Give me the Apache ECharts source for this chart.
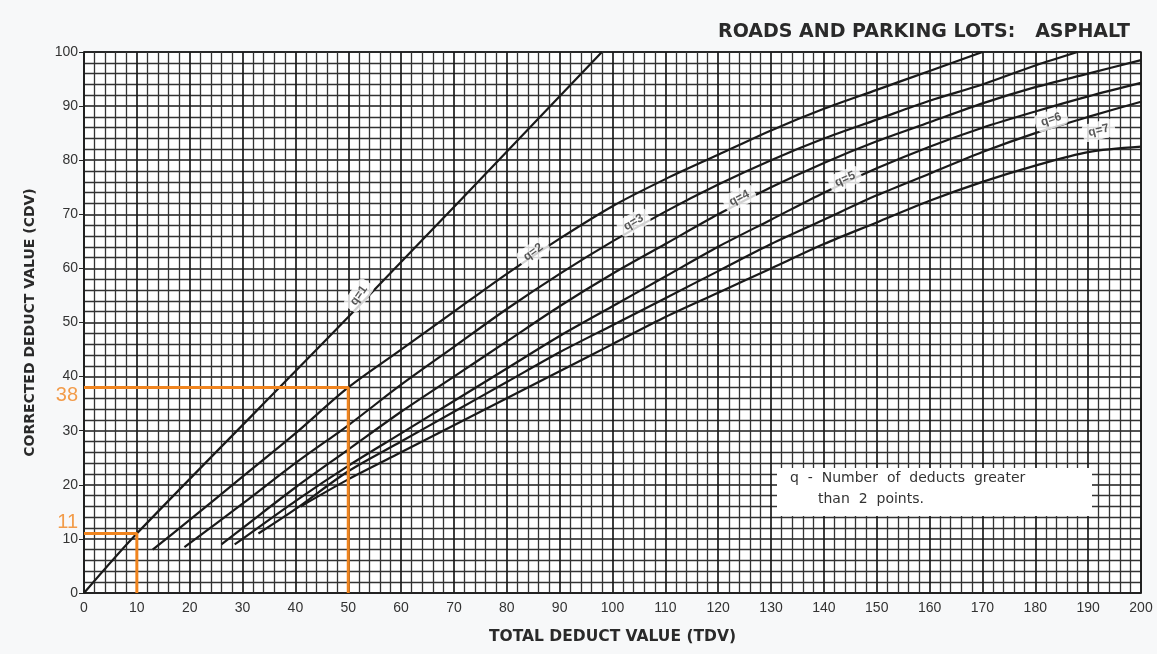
<!DOCTYPE html>
<html>
<head>
<meta charset="utf-8">
<script src="https://cdn.jsdelivr.net/npm/echarts@6/dist/echarts.min.js"></script>
<style>
  html, body { margin: 0; padding: 0; background: #f7f8f9; }
  #chart { width: 1157px; height: 654px; }
</style>
</head>
<body>
<div id="chart"></div>
<script>
// Corrected deduct value curves, one per number of deducts q
const curveNames = ['q=1', 'q=2', 'q=3', 'q=4', 'q=5', 'q=6', 'q=7'];
const q1 = [[0, 0], [10, 11], [50, 51], [98, 100]];
const q2 = [[13, 8], [20, 13.5], [30, 21.5], [40, 29.5], [50, 38], [60, 45], [70, 52], [80, 59], [90, 65.5], [100, 71.5], [110, 76.5], [120, 81], [130, 85.5], [140, 89.5], [150, 93], [160, 96.5], [170, 100]];
const q3 = [[19, 8.5], [30, 16.5], [40, 24], [50, 31], [60, 38.5], [70, 45.5], [80, 52.5], [90, 59], [100, 65], [110, 70.5], [120, 75.5], [130, 80], [140, 84], [150, 87.5], [160, 91], [170, 94], [180, 97.5], [188, 100]];
const q4 = [[26, 9], [30, 12], [40, 19.5], [50, 26.5], [60, 33.5], [70, 40], [80, 46.5], [90, 53], [100, 59], [110, 64.5], [120, 70], [130, 75], [140, 79.5], [150, 83.5], [160, 87], [170, 90.5], [180, 93.5], [190, 96], [200, 98.5]];
const q5 = [[28.5, 9], [30, 10], [40, 17], [50, 23.5], [60, 29.5], [70, 35.5], [80, 41.5], [90, 47.5], [100, 53], [110, 58.5], [120, 64], [130, 69], [140, 74], [150, 78.5], [160, 82.5], [170, 86], [180, 89], [190, 91.8], [200, 94.3]];
const q6 = [[33, 11], [40, 15.5], [50, 22.5], [60, 28], [70, 33.5], [80, 39], [90, 44.5], [100, 49.5], [110, 54.5], [120, 59.5], [130, 64.5], [140, 69], [150, 73.5], [160, 77.5], [170, 81.5], [180, 85], [190, 88], [200, 90.8]];
const q7 = [[41, 16], [50, 21], [60, 26], [70, 31], [80, 36], [90, 41], [100, 46], [110, 51], [120, 55.5], [130, 60], [140, 64.5], [150, 68.5], [160, 72.5], [170, 76], [180, 79], [190, 81.5], [200, 82.5]];
const curves = [q1, q2, q3, q4, q5, q6, q7];

// Where each curve's tag sits, and its slant in degrees
const tagPos = [[52, 55], [85, 63], [104, 68.5], [124, 73], [144, 76.5], [183, 87.5], [192, 85.5]];
const tagAngle = [55, 36, 30, 27, 24, 18, 14];
const tagText = ['q=1', 'q=2', 'q=3', 'q=4', 'q=5', 'q=6', 'q=7'];

// Worked readings: TDV -> CDV
const readTDV = [10, 50];
const readCDV = [11, 38];
const readLabelShift = [-11, 8];

const chart = echarts.init(document.getElementById('chart'));

const curveSeries = curves.map((pts, i) => ({
  name: curveNames[i],
  type: 'line',
  data: pts,
  smooth: 0.3,
  symbol: 'none',
  lineStyle: { color: '#1a1a1a', width: 2.2 },
  z: 5
}));

const readSeries = readTDV.map((tdv, i) => ({
  name: 'reading ' + readCDV[i],
  type: 'line',
  data: [[0, readCDV[i]], [tdv, readCDV[i]], [tdv, 0]],
  symbol: 'none',
  lineStyle: { color: '#f0841e', width: 3 },
  z: 8
}));

const readLabels = {
  name: 'reading values',
  type: 'scatter',
  data: readCDV.map((v, i) => ({
    value: [0, v],
    label: { offset: [0, readLabelShift[i]] }
  })),
  symbolSize: 0,
  silent: true,
  z: 9,
  label: {
    show: true,
    position: 'left',
    distance: 6,
    formatter: p => String(p.value[1]),
    color: '#f0841e',
    fontFamily: 'Liberation Sans, Arial',
    fontSize: 20,
    backgroundColor: 'rgba(247,248,249,0.85)'
  }
};

const tagSeries = {
  name: 'curve tags',
  type: 'scatter',
  data: tagPos.map((p, i) => ({
    value: p,
    label: {
      show: true,
      position: 'inside',
      formatter: tagText[i],
      rotate: tagAngle[i],
      backgroundColor: '#ffffff',
      padding: [3, 6],
      borderRadius: 5,
      color: '#2f2f2f',
      fontSize: 12,
      fontWeight: 'bold',
      fontFamily: 'Liberation Sans, Arial'
    }
  })),
  symbolSize: 1,
  itemStyle: { color: 'rgba(0,0,0,0)' },
  silent: true,
  z: 10
};

chart.setOption({
  backgroundColor: '#f7f8f9',
  animation: false,
  title: {
    text: 'ROADS AND PARKING LOTS:   ASPHALT',
    right: 22,
    top: 18,
    textStyle: { fontFamily: 'DejaVu Sans, Verdana', fontSize: 19, fontWeight: 'bold', color: '#2a2a2a' }
  },
  grid: { left: 84, right: 16, top: 52, bottom: 61, show: true, backgroundColor: '#ffffff', borderColor: '#222', borderWidth: 1.5 },
  xAxis: {
    type: 'value', min: 0, max: 200, interval: 10,
    name: 'TOTAL DEDUCT VALUE (TDV)', nameLocation: 'middle', nameGap: 36,
    nameTextStyle: { fontFamily: 'DejaVu Sans, Verdana', fontSize: 15.5, fontWeight: 'bold', color: '#2a2a2a' },
    axisLine: { show: true, lineStyle: { color: '#222', width: 1.5 } },
    axisTick: { show: false },
    axisLabel: { color: '#333', fontSize: 14, fontFamily: 'Liberation Sans Narrow, Liberation Sans, Arial', margin: 8 },
    splitLine: { show: true, lineStyle: { color: '#1a1a1a', width: 1.7 } },
    minorTick: { show: false, splitNumber: 5 },
    minorSplitLine: { show: true, lineStyle: { color: '#333', width: 1.3 } }
  },
  yAxis: {
    type: 'value', min: 0, max: 100, interval: 10,
    name: 'CORRECTED DEDUCT VALUE (CDV)', nameLocation: 'middle', nameGap: 47, nameRotate: 90,
    nameTextStyle: { fontFamily: 'DejaVu Sans, Verdana', fontSize: 14, fontWeight: 'bold', color: '#2a2a2a' },
    axisLine: { show: true, lineStyle: { color: '#222', width: 1.5 } },
    axisTick: { show: true, length: 5, lineStyle: { color: '#222' } },
    axisLabel: { color: '#333', fontSize: 14, fontFamily: 'Liberation Sans Narrow, Liberation Sans, Arial', margin: 6 },
    splitLine: { show: true, lineStyle: { color: '#1a1a1a', width: 1.7 } },
    minorTick: { show: false, splitNumber: 5 },
    minorSplitLine: { show: true, lineStyle: { color: '#333', width: 1.3 } }
  },
  graphic: [
    { type: 'rect', left: 777, top: 468, z: 100, shape: { width: 315, height: 48 }, style: { fill: '#ffffff' } },
    { type: 'text', left: 790, top: 471, z: 101, style: { text: 'q  -  Number  of  deducts  greater', fontFamily: 'DejaVu Sans, Verdana', fontSize: 14, fill: '#333' } },
    { type: 'text', left: 818, top: 492, z: 101, style: { text: 'than  2  points.', fontFamily: 'DejaVu Sans, Verdana', fontSize: 14, fill: '#333' } }
  ],
  series: [...curveSeries, ...readSeries, readLabels, tagSeries]
});
</script>
</body>
</html>
